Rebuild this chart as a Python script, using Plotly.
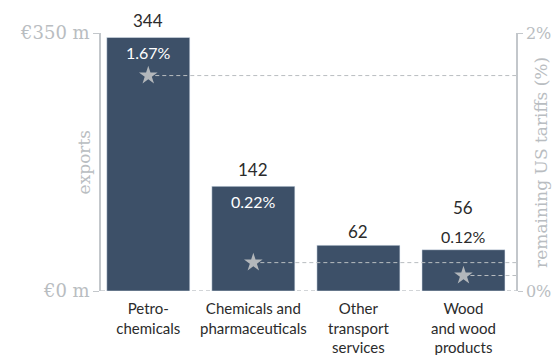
import plotly.graph_objects as go

# data
categories = ["Petro-<br>chemicals", "Chemicals and<br>pharmaceuticals",
              "Other<br>transport<br>services", "Wood<br>and wood<br>products"]
exports = [344, 142, 62, 56]            # EUR m
tariffs = [1.67, 0.22, None, 0.12]      # remaining US tariffs, %
tariff_labels = ["1.67%", "0.22%", "", "0.12%"]
label_inside = [True, True, False, False]

BAR = "#3d5068"
GREY = "#c3c7cb"
SERIF = "DejaVu Serif, serif"
SANS = "Lato, Open Sans, sans-serif"
DASH = "4px,3px"

xs = list(range(len(categories)))
XMIN, XMAX = -0.45, 3.5

fig = go.Figure()

fig.add_trace(go.Bar(x=xs, y=exports, width=0.79, marker_color=BAR,
                     hoverinfo="skip", showlegend=False))

# stars + dashed guides to the right axis
for i, t in enumerate(tariffs):
    if t is None:
        continue
    fig.add_trace(go.Scatter(x=[i, XMAX], y=[t, t], yaxis="y2", mode="lines",
                             line=dict(color="#b9bdc1", width=1, dash=DASH),
                             hoverinfo="skip", showlegend=False))
    fig.add_trace(go.Scatter(x=[i], y=[t], yaxis="y2", mode="markers",
                             marker=dict(symbol="star", size=14, color="#b3b7bb",
                                         line=dict(width=0)),
                             hoverinfo="skip", showlegend=False))

# baseline
fig.add_shape(type="line", xref="paper", x0=0, x1=1, yref="y", y0=0, y1=0,
              line=dict(color="#c3c7cb", width=1.5, dash=DASH), layer="below")

# value labels
for i, v in enumerate(exports):
    if tariff_labels[i] and label_inside[i]:
        fig.add_annotation(x=i, y=v, text=str(v), showarrow=False, yanchor="bottom",
                           yshift=4, font=dict(family=SANS, size=17, color="#2b2b2b"))
        fig.add_annotation(x=i, y=v, text=tariff_labels[i], showarrow=False,
                           yanchor="top", yshift=-4,
                           font=dict(family=SANS, size=16, color="white"))
    elif tariff_labels[i]:
        fig.add_annotation(x=i, y=v, text=tariff_labels[i], showarrow=False,
                           yanchor="bottom", yshift=2,
                           font=dict(family=SANS, size=16, color="#2b2b2b"))
        fig.add_annotation(x=i, y=v, text=str(v), showarrow=False, yanchor="bottom",
                           yshift=30, font=dict(family=SANS, size=17, color="#2b2b2b"))
    else:
        fig.add_annotation(x=i, y=v, text=str(v), showarrow=False, yanchor="bottom",
                           yshift=1, font=dict(family=SANS, size=17, color="#2b2b2b"))

# axis titles
fig.add_annotation(x=-0.04, xref="paper", xanchor="center", y=0.5, yref="paper",
                   text="exports", textangle=-90, showarrow=False,
                   font=dict(family=SERIF, size=17, color="#b9bdc1"))
fig.add_annotation(x=1.06, xref="paper", xanchor="center", y=0.5, yref="paper",
                   text="remaining US tariffs (%)", textangle=-90, showarrow=False,
                   font=dict(family=SERIF, size=17, color="#b9bdc1"))

fig.update_layout(
    width=553, height=355,
    margin=dict(l=101, r=37, t=33, b=64),
    plot_bgcolor="white", paper_bgcolor="white",
    xaxis=dict(range=[XMIN, XMAX], tickvals=xs, ticktext=categories,
               showgrid=False, zeroline=False, showline=False, ticks="",
               automargin=False, ticklabelstandoff=7,
               tickfont=dict(family=SANS, size=15, color="#2b2b2b")),
    yaxis=dict(range=[0, 350], tickvals=[0, 350], ticktext=["€0 m", "€350 m"],
               showgrid=False, zeroline=False, showline=True, linecolor=GREY,
               linewidth=1.5, ticks="outside", ticklen=6, tickcolor=GREY,
               automargin=False,
               tickfont=dict(family=SERIF, size=18, color="#b9bdc1")),
    yaxis2=dict(range=[0, 2], overlaying="y", side="right", tickvals=[0, 2],
                ticktext=["0%", "2%"], showgrid=False, zeroline=False,
                showline=True, linecolor=GREY, linewidth=1.5, ticks="outside",
                ticklen=5, tickcolor=GREY, automargin=False,
                tickfont=dict(family=SERIF, size=16, color="#b9bdc1")),
)

fig.write_html("out.html", config={"displayModeBar": False},
               post_script="document.body.style.margin='0';")
